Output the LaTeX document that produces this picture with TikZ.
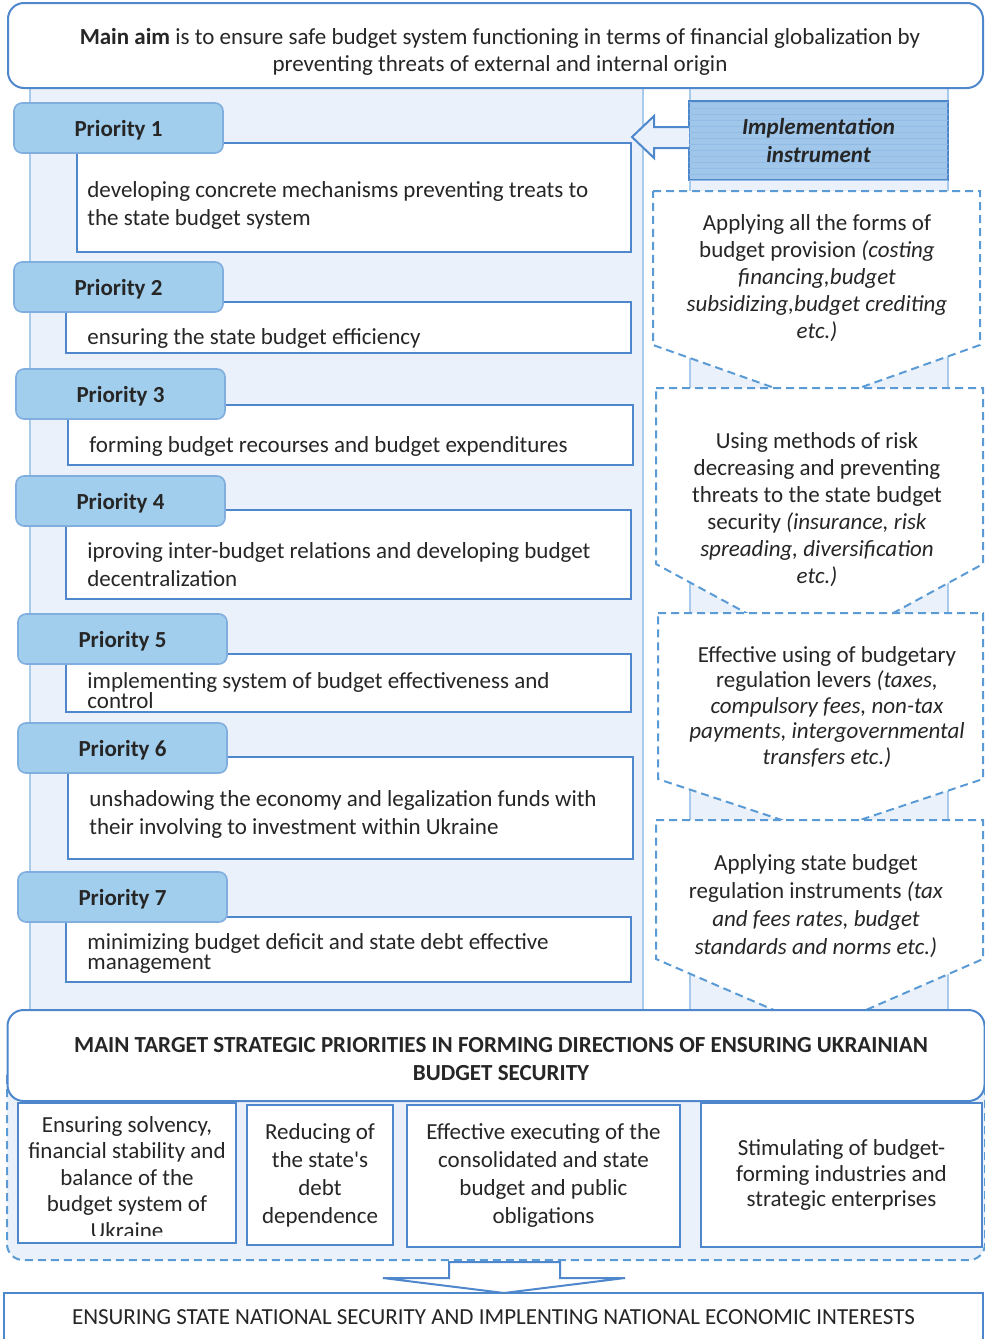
\documentclass[tikz,border=0pt]{standalone}
\usepackage{fontspec}
\setmainfont{Carlito}
\usepackage{tikz}
\usetikzlibrary{patterns}
\definecolor{edgeblue}{RGB}{79,135,205}
\definecolor{dashblue}{RGB}{91,155,213}
\definecolor{panelfill}{RGB}{234,241,250}
\definecolor{panelline}{RGB}{168,202,235}
\definecolor{priofill}{RGB}{162,206,237}
\definecolor{prioline}{RGB}{128,174,222}
\definecolor{instfill}{RGB}{160,198,234}
\definecolor{instline}{RGB}{146,188,230}
\definecolor{textgray}{RGB}{38,38,38}
\tikzset{
    panel/.style={fill=panelfill, draw=panelline, line width=1pt},
    aimbox/.style={draw=edgeblue, line width=1pt, rounded corners=8pt, fill=white},
    aimtext/.style={align=center, text=textgray, font=\fontsize{11.5}{13.5}\selectfont},
    priohead/.style={draw=prioline, line width=0.8pt, fill=priofill, rounded corners=4pt, minimum width=104.5pt, minimum height=25pt, text height=9.5pt, text depth=1.2pt, text=textgray, font=\fontsize{11.5}{13}\selectfont\bfseries},
    descbox/.style={draw=edgeblue, line width=1pt, fill=white, minimum width=282.5pt},
    desctext/.style={anchor=west, align=left, inner sep=0pt, text=textgray, font=\fontsize{11.5}{14}\selectfont},
    instrbox/.style={draw=edgeblue, line width=1pt, fill=instfill, postaction={pattern=horizontal lines, pattern color=instline}, minimum width=129.5pt, minimum height=39.5pt, align=center, text=textgray, font=\fontsize{11.5}{14}\selectfont\bfseries\itshape},
    pent/.style={draw=dashblue, line width=1pt, dash pattern=on 4pt off 2.5pt, fill=white},
    penttext/.style={align=center, text=textgray, font=\fontsize{11.5}{13.5}\selectfont},
    grp/.style={draw=dashblue, line width=1pt, dash pattern=on 4pt off 2.5pt, fill=panelfill, rounded corners=8pt},
    goalbox/.style={draw=edgeblue, line width=1pt, fill=white},
    goaltext/.style={align=center, text=textgray, font=\fontsize{11.5}{14}\selectfont},
    blockarrow/.style={draw=edgeblue, line width=1pt, line join=miter},
}

\begin{document}
\begin{tikzpicture}[x=0.5pt, y=-0.5pt]
    \useasboundingbox (0,0) rectangle (985,1339);
    % Columns behind
    \draw[panel] (30,88) rectangle (643,1010);
    \draw[panel] (690,88) rectangle (948,1010);
    \draw[grp] (7,1060) rectangle (985,1260);
    % Priorities
    \node[descbox, minimum width=277pt, minimum height=54.5pt] (d1) at (354,197.5) {};
    \node[descbox, minimum height=25.5pt] (d2) at (348.5,327.5) {};
    \node[descbox, minimum height=30pt] (d3) at (350.5,435) {};
    \node[descbox, minimum height=44.5pt] (d4) at (348.5,554.5) {};
    \node[descbox, minimum height=29pt] (d5) at (348.5,683) {};
    \node[descbox, minimum height=51pt] (d6) at (350.5,808) {};
    \node[descbox, minimum height=32.5pt] (d7) at (348.5,949.5) {};
    \node[desctext] (t1) at (87,205) {developing concrete mechanisms preventing treats to\\the state budget system};
    \node[desctext] (t2) at (87,338) {ensuring the state budget efficiency};
    \node[desctext] (t3) at (89,446) {forming budget recourses and budget expenditures};
    \node[desctext] (t4) at (87,565) {iproving inter-budget relations and developing budget\\decentralization};
    \node[desctext, font=\fontsize{11.5}{10}\selectfont] (t5) at (87,691) {implementing system of budget effectiveness and\\control};
    \node[desctext] (t6) at (89,814) {unshadowing the economy and legalization funds with\\their involving to investment within Ukraine};
    \node[desctext, font=\fontsize{11.5}{10}\selectfont] (t7) at (87,953) {minimizing budget deficit and state debt effective\\management};
    \node[priohead] (p1) at (118.5,128) {Priority 1};
    \node[priohead] (p2) at (118.5,287) {Priority 2};
    \node[priohead] (p3) at (120.5,394) {Priority 3};
    \node[priohead] (p4) at (120.5,501) {Priority 4};
    \node[priohead] (p5) at (122.5,639) {Priority 5};
    \node[priohead] (p6) at (122.5,748) {Priority 6};
    \node[priohead] (p7) at (122.5,897) {Priority 7};
    % Implementation instruments
    \draw[pent] (653,191) -- (980,191) -- (980,345) -- (817,403) -- (653,345) -- cycle;
    \draw[pent] (656,388) -- (983,388) -- (983,564) -- (820,653) -- (656,564) -- cycle;
    \draw[pent] (658,613) -- (983,613) -- (983,779) -- (821,833) -- (658,779) -- cycle;
    \draw[pent] (656,820) -- (983,820) -- (983,959) -- (820,1030) -- (656,959) -- cycle;
    \node[penttext] (i1) at (817,278) {Applying all the forms of\\budget provision \textit{(costing}\\\textit{financing,budget}\\\textit{subsidizing,budget crediting}\\\textit{etc.)}};
    \node[penttext] (i2) at (817,510) {Using methods of risk\\decreasing and preventing\\threats to the state budget\\security \textit{(insurance, risk}\\\textit{spreading, diversification}\\\textit{etc.)}};
    \node[penttext, font=\fontsize{11.5}{12.75}\selectfont] (i3) at (827,707) {Effective using of budgetary\\regulation levers \textit{(taxes,}\\\textit{compulsory fees, non-tax}\\\textit{payments, intergovernmental}\\\textit{transfers etc.)}};
    \node[penttext, font=\fontsize{11.5}{14}\selectfont] (i4) at (816,906) {Applying state budget\\regulation instruments \textit{(tax}\\\textit{and fees rates, budget}\\\textit{standards and norms etc.)}};
    \node[instrbox] (inst) at (818.5,140.5) {Implementation\\instrument};
    \draw[blockarrow, fill=panelfill] (689,127) -- (654,127) -- (654,116) -- (632,137) -- (654,158) -- (654,148) -- (689,148);
    % Aim and targets
    \node[aimbox, minimum width=487.5pt, minimum height=42.5pt] (aim) at (495.5,45.5) {};
    \node[aimtext] (aimt) at (500,51.5) {\textbf{Main aim} is to ensure safe budget system functioning in terms of financial globalization by\\preventing threats of external and internal origin};
    \node[aimbox, minimum width=488.5pt, minimum height=45.5pt] (tgt) at (496,1055.5) {};
    \node[aimtext, font=\fontsize{11.5}{14}\selectfont\bfseries] (tgtt) at (501,1059) {MAIN TARGET STRATEGIC PRIORITIES IN FORMING DIRECTIONS OF ENSURING UKRAINIAN\\BUDGET SECURITY};
    \node[goalbox, minimum width=109pt, minimum height=70pt] (g1) at (127,1173) {};
    \begin{scope}
        \clip (20,1105) rectangle (234,1235);
        \node[goaltext, font=\fontsize{11.5}{13.25}\selectfont, anchor=north, inner sep=0pt] (g1t) at (127,1116) {Ensuring solvency,\\financial stability and\\balance of the\\budget system of\\Ukraine};
    \end{scope}
    \node[goalbox, goaltext, minimum width=73pt, minimum height=70pt] (g2) at (320,1175) {Reducing of\\the state\textquotesingle s\\debt\\dependence};
    \node[goalbox, goaltext, minimum width=136.5pt, minimum height=71pt] (g3) at (543.5,1175.5) {Effective executing of the\\consolidated and state\\budget and public\\obligations};
    \node[goalbox, goaltext, minimum width=140.5pt, minimum height=72pt, font=\fontsize{11.5}{12.75}\selectfont] (g4) at (841.5,1175) {Stimulating of budget-\\forming industries and\\strategic enterprises};
    % Result
    \draw[blockarrow, fill=white] (449,1262) -- (560,1262) -- (560,1278) -- (625,1278) -- (504,1293) -- (383,1278) -- (449,1278) -- cycle;
    \node[goalbox, goaltext, minimum width=489.5pt, minimum height=24pt] (res) at (493.5,1317) {ENSURING STATE NATIONAL SECURITY AND IMPLENTING NATIONAL ECONOMIC INTERESTS};
\end{tikzpicture}
\end{document}
